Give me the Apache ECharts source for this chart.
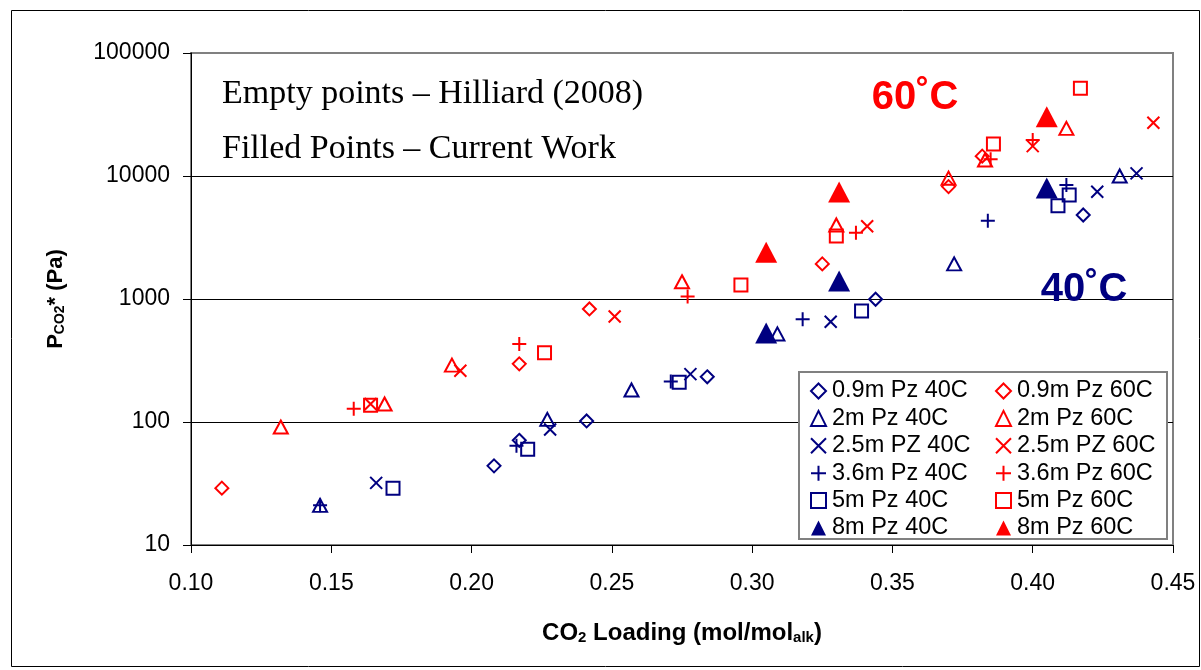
<!DOCTYPE html>
<html>
<head>
<meta charset="utf-8">
<title>PCO2* vs CO2 loading</title>
<script src="https://cdn.jsdelivr.net/npm/echarts@6/dist/echarts.min.js"></script>
<style>
  html, body { margin: 0; padding: 0; background: #fff; }
  #chart { width: 1201px; height: 670px; }
</style>
</head>
<body>
<div id="chart"></div>
<script>
// Axis ticks
const xTickValues = [0.10, 0.15, 0.20, 0.25, 0.30, 0.35, 0.40, 0.45];
const xTickLabels = ['0.10', '0.15', '0.20', '0.25', '0.30', '0.35', '0.40', '0.45'];
const yTickValues = [10, 100, 1000, 10000, 100000];
const yTickLabels = ['10', '100', '1000', '10000', '100000'];

// [CO2 loading (mol/mol alk), PCO2* (Pa)] — 40 C
const pz09_40 = [[0.208, 44], [0.217, 71], [0.241, 102], [0.284, 233], [0.344, 995], [0.418, 4820]];
const pz2_40 = [[0.146, 21], [0.227, 105], [0.257, 182], [0.309, 520], [0.372, 1930], [0.431, 10000]];
const pz25_40 = [[0.166, 32], [0.228, 87], [0.278, 245], [0.328, 654], [0.423, 7450], [0.437, 10500]];
const pz36_40 = [[0.146, 21], [0.216, 64], [0.271, 213], [0.318, 684], [0.384, 4330], [0.412, 8450]];
const pz5_40 = [[0.172, 29], [0.220, 60], [0.274, 210], [0.339, 800], [0.409, 5740], [0.413, 7000]];
const pz8_40 = [[0.305, 530], [0.331, 1400], [0.405, 8000]];

// 60 C
const pz09_60 = [[0.111, 29], [0.217, 297], [0.242, 830], [0.325, 1930], [0.370, 8200], [0.382, 14500]];
const pz2_60 = [[0.132, 91], [0.169, 140], [0.193, 290], [0.275, 1380], [0.330, 4000], [0.370, 9600], [0.383, 13500], [0.412, 24400]];
const pz25_60 = [[0.164, 140], [0.196, 261], [0.251, 720], [0.341, 3900], [0.400, 17500], [0.443, 27100]];
const pz36_60 = [[0.158, 128], [0.217, 430], [0.277, 1050], [0.337, 3460], [0.385, 13700], [0.400, 19600]];
const pz5_60 = [[0.164, 137], [0.226, 366], [0.296, 1300], [0.330, 3250], [0.386, 18200], [0.417, 51600]];
const pz8_60 = [[0.305, 2400], [0.331, 7400], [0.405, 30300]];

const names40 = ['0.9m Pz 40C', '2m Pz 40C', '2.5m PZ 40C', '3.6m Pz 40C', '5m Pz 40C', '8m Pz 40C'];
const names60 = ['0.9m Pz 60C', '2m Pz 60C', '2.5m PZ 60C', '3.6m Pz 60C', '5m Pz 60C', '8m Pz 60C'];

const BLUE = '#000080';
const RED = '#FF0000';
const NONE = 'rgba(0,0,0,0)';
const FONT = "'Liberation Sans', Arial, sans-serif";
const SERIF = "'Liberation Serif', 'Times New Roman', serif";

const CROSS = 'path://M0,0L10,10M10,0L0,10';
const PLUS = 'path://M5,0L5,10M0,5L10,5';

// marker definitions per concentration: symbol, size, filled?
const markers = [
  { symbol: 'diamond', size: 13, filled: false },
  { symbol: 'triangle', size: [14, 13], filled: false },
  { symbol: CROSS, size: 12, filled: false },
  { symbol: PLUS, size: 14, filled: false },
  { symbol: 'rect', size: 13, filled: false },
  { symbol: 'triangle', size: [22, 21], filled: true }
];

function styleFor(m, color) {
  return m.filled
    ? { color: color, borderWidth: 0, opacity: 1 }
    : { color: NONE, borderColor: color, borderWidth: 2, opacity: 1 };
}

function makeSeries(names, sets, color) {
  return names.map((name, i) => ({
    name: name,
    type: 'scatter',
    data: sets[i],
    symbol: markers[i].symbol,
    symbolSize: markers[i].size,
    itemStyle: styleFor(markers[i], color),
    emphasis: { disabled: true },
    z: markers[i].filled ? 3 : 4
  }));
}

function legendItems(names, color) {
  return names.map((name, i) => ({
    name: name,
    icon: markers[i].symbol,
    itemStyle: markers[i].filled
      ? { color: color, borderWidth: 0 }
      : { color: NONE, borderColor: color, borderWidth: 2 }
  }));
}

function legendAt(left, names, color) {
  return {
    orient: 'vertical',
    left: left,
    top: 379,
    itemWidth: 15,
    itemHeight: 15,
    itemGap: 3.4,
    selectedMode: false,
    padding: 0,
    z: 20,
    textStyle: { fontFamily: FONT, fontSize: 23.5, color: '#000', lineHeight: 22, padding: [0, 0, 0, 1] },
    data: legendItems(names, color)
  };
}

const series = makeSeries(names40, [pz09_40, pz2_40, pz25_40, pz36_40, pz5_40, pz8_40], BLUE)
  .concat(makeSeries(names60, [pz09_60, pz2_60, pz25_60, pz36_60, pz5_60, pz8_60], RED));

const chart = echarts.init(document.getElementById('chart'), null, { renderer: 'canvas' });

chart.setOption({
  animation: false,
  backgroundColor: '#fff',
  grid: {
    left: 191, right: 28, top: 53, bottom: 125,
    show: true, borderColor: '#808080', borderWidth: 2, backgroundColor: NONE
  },
  xAxis: {
    type: 'value',
    min: 0.10, max: 0.45, interval: 0.05,
    axisLine: { show: true, onZero: false, lineStyle: { color: '#000', width: 1 } },
    axisTick: { show: true, inside: false, length: 8, lineStyle: { color: '#000', width: 1 } },
    splitLine: { show: false },
    axisLabel: {
      margin: 28, fontFamily: FONT, fontSize: 23, color: '#000', lineHeight: 22,
      formatter: v => {
        const i = xTickValues.findIndex(t => Math.abs(t - v) < 1e-6);
        return i >= 0 ? xTickLabels[i] : '';
      }
    },
    name: '{b|CO}{s|2}{b| Loading (mol/mol}{s|alk}{b|)}',
    nameLocation: 'middle',
    nameGap: 72,
    nameTextStyle: {
      rich: {
        b: { fontFamily: FONT, fontSize: 24, fontWeight: 'bold', color: '#000', lineHeight: 28, verticalAlign: 'bottom' },
        s: { fontFamily: FONT, fontSize: 15, fontWeight: 'bold', color: '#000', lineHeight: 14, verticalAlign: 'bottom' }
      }
    }
  },
  yAxis: {
    type: 'log',
    logBase: 10,
    min: 10, max: 100000,
    axisLine: { show: true, lineStyle: { color: '#000', width: 1 } },
    axisTick: { show: true, inside: false, length: 8, lineStyle: { color: '#000', width: 1 } },
    minorTick: { show: false },
    splitLine: { show: true, lineStyle: { color: ['#000', '#000', '#000', '#000', 'rgba(0,0,0,0)'], width: 1 } },
    axisLabel: {
      margin: 21, fontFamily: FONT, fontSize: 23, color: '#000',
      formatter: v => {
        const i = yTickValues.findIndex(t => Math.abs(Math.log10(t) - Math.log10(v)) < 1e-6);
        return i >= 0 ? yTickLabels[i] : '';
      }
    },
    name: '{b|P}{s|CO2}{b|* (Pa)}',
    nameLocation: 'middle',
    nameRotate: 90,
    nameGap: 124,
    nameTextStyle: {
      rich: {
        b: { fontFamily: FONT, fontSize: 22, fontWeight: 'bold', color: '#000', lineHeight: 26, verticalAlign: 'bottom' },
        s: { fontFamily: FONT, fontSize: 14, fontWeight: 'bold', color: '#000', lineHeight: 13, verticalAlign: 'bottom' }
      }
    }
  },
  legend: [legendAt(810, names40, BLUE), legendAt(995, names60, RED)],
  series: series,
  graphic: [
    // outer chart frame
    {
      type: 'rect', silent: true, z: 0,
      shape: { x: 11.5, y: 10.5, width: 1188, height: 656 },
      style: { fill: NONE, stroke: '#000', lineWidth: 1 }
    },
    // legend frame
    {
      type: 'rect', silent: true, z: 10,
      shape: { x: 799, y: 372, width: 368, height: 167 },
      style: { fill: '#fff', stroke: '#808080', lineWidth: 2 }
    },
    {
      type: 'text', silent: true, z: 10, left: 222, top: 77,
      style: { text: 'Empty points – Hilliard (2008)', font: '34px ' + SERIF, fill: '#000' }
    },
    {
      type: 'text', silent: true, z: 10, left: 222, top: 132,
      style: { text: 'Filled Points – Current Work', font: '34px ' + SERIF, fill: '#000' }
    },
    {
      type: 'text', silent: true, z: 10, x: 915, y: 98,
      style: { text: '60˚C', font: "bold 40px 'Liberation Sans', Arial, sans-serif", fill: RED, align: 'center', verticalAlign: 'middle' }
    },
    {
      type: 'text', silent: true, z: 10, x: 1084, y: 290,
      style: { text: '40˚C', font: "bold 40px 'Liberation Sans', Arial, sans-serif", fill: BLUE, align: 'center', verticalAlign: 'middle' }
    }
  ]
});
</script>
</body>
</html>
